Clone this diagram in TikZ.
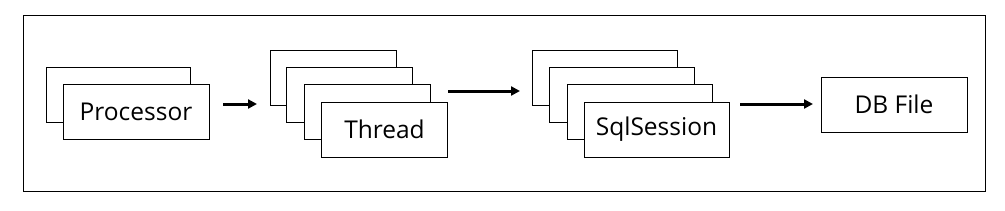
\documentclass[tikz,border=0pt]{standalone}
\usepackage{fontspec}
\setmainfont{Open Sans}
\usetikzlibrary{arrows.meta}
\begin{document}
\begin{tikzpicture}[x=1pt,y=-1pt,
  card/.style={draw=black,fill=white,line width=1pt,inner sep=0pt,font=\fontsize{24.5}{28}\selectfont},
  flow/.style={line width=3pt,-{Triangle[length=9pt,width=9pt]}}]
\useasboundingbox (0,0) rectangle (1005,210);
\node[draw,line width=1pt,minimum width=962pt,minimum height=176pt,inner sep=0pt] (frame) at (504,103) {};
% Processor
\node[card,minimum width=144pt,minimum height=55pt] (p1) at (118,94.5) {};
\node[card,minimum width=146pt,minimum height=55pt] (p2) at (136,111.5) {Processor};
% Thread
\node[card,minimum width=126pt,minimum height=55pt] (t1) at (333,77.5) {};
\node[card,minimum width=126pt,minimum height=55pt] (t2) at (349.5,94.5) {};
\node[card,minimum width=126pt,minimum height=55pt] (t3) at (367.5,111.5) {};
\node[card,minimum width=126pt,minimum height=55pt] (t4) at (384.5,129.5) {Thread};
% SqlSession
\node[card,minimum width=145pt,minimum height=55pt] (s1) at (605,77.5) {};
\node[card,minimum width=145pt,minimum height=55pt] (s2) at (622,94.5) {};
\node[card,minimum width=145pt,minimum height=55pt] (s3) at (639.5,111.5) {};
\node[card,minimum width=145pt,minimum height=55pt] (s4) at (656.5,129.5) {SqlSession};
% DB File
\node[card,minimum width=146pt,minimum height=55pt] (db) at (894,104.5) {DB File};
% arrows
\coordinate (a1s) at (223,104); \coordinate (a1e) at (257,104);
\coordinate (a2s) at (448,91); \coordinate (a2e) at (520,91);
\coordinate (a3s) at (740,104); \coordinate (a3e) at (813,104);
\draw[flow] (a1s) -- (a1e);
\draw[flow] (a2s) -- (a2e);
\draw[flow] (a3s) -- (a3e);
\end{tikzpicture}
\end{document}
